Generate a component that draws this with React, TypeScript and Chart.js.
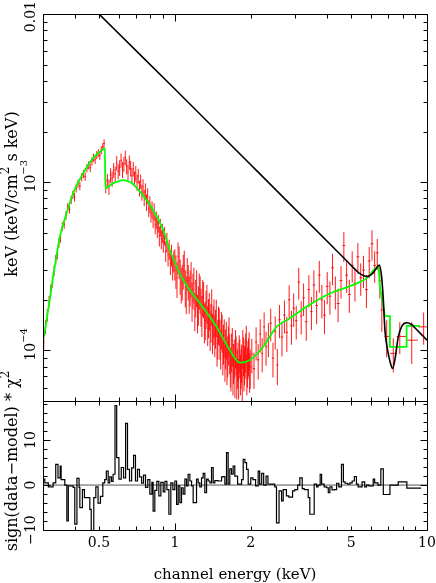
import React, { useEffect, useRef } from 'react';
import { Chart, registerables } from 'chart.js';

Chart.register(...registerables);

// ---------- observed spectrum (red crosses) ----------
const dataEnergy = [
  0.302, 0.307, 0.312, 0.317, 0.322, 0.327, 0.332, 0.337, 0.342, 0.347, 0.352, 0.358, 0.364, 0.370, 0.376, 0.382, 0.388, 0.394, 0.400,
  0.406, 0.413, 0.420, 0.427, 0.434, 0.441, 0.448, 0.455, 0.462, 0.469, 0.476, 0.483, 0.490, 0.497, 0.504, 0.511, 0.518, 0.524,
  0.532, 0.540, 0.548, 0.556, 0.564, 0.572, 0.580, 0.588, 0.596, 0.604, 0.612, 0.620, 0.628, 0.636, 0.644, 0.652, 0.660, 0.668,
  0.676, 0.684, 0.692, 0.700, 0.708, 0.716, 0.724, 0.732, 0.740, 0.748, 0.756, 0.764, 0.772, 0.780, 0.788, 0.796, 0.804, 0.812,
  0.820, 0.828, 0.836, 0.844, 0.852, 0.860, 0.868, 0.876, 0.884, 0.892, 0.900, 0.910, 0.920, 0.930, 0.940, 0.950, 0.960, 0.970,
  0.980, 0.990,
  1.00, 1.01, 1.02, 1.03, 1.04, 1.05, 1.06, 1.07, 1.08, 1.09, 1.10, 1.11, 1.12, 1.13, 1.14, 1.15, 1.16, 1.17, 1.18, 1.19,
  1.20, 1.21, 1.22, 1.23, 1.24, 1.25, 1.26, 1.27, 1.28, 1.29, 1.30, 1.31, 1.32, 1.33, 1.34, 1.35, 1.36, 1.37, 1.38, 1.39,
  1.40, 1.41, 1.42, 1.43, 1.44, 1.45, 1.46, 1.47, 1.48, 1.49, 1.50, 1.51, 1.52, 1.53, 1.54, 1.55, 1.56, 1.57, 1.58, 1.59,
  1.60, 1.61, 1.62, 1.63, 1.64, 1.65, 1.66, 1.67, 1.68, 1.69, 1.70, 1.71, 1.72, 1.73, 1.74, 1.75, 1.76, 1.77, 1.78, 1.79,
  1.80, 1.81, 1.82, 1.83, 1.84, 1.85, 1.86, 1.87, 1.88, 1.89, 1.90, 1.91, 1.92, 1.93, 1.94, 1.95, 1.96, 1.97, 1.98, 1.99,
  2.02, 2.06, 2.10, 2.14, 2.18, 2.22, 2.26, 2.30, 2.35, 2.40, 2.45, 2.50, 2.55, 2.60, 2.66, 2.72, 2.78, 2.84, 2.90, 2.96, 3.03,
  3.10, 3.17, 3.24, 3.32, 3.40, 3.48, 3.56, 3.65, 3.74, 3.83, 3.92, 4.02, 4.12, 4.22, 4.33, 4.44, 4.56, 4.68, 4.80, 4.92, 5.05,
  5.18, 5.32, 5.46, 5.60, 5.75, 5.90, 6.05, 6.20, 6.35, 6.50,
  6.62, 6.92, 7.35, 7.80, 8.70, 9.70,
];
const dataFlux = [
  1.12e-4, 1.38e-4, 1.62e-4, 1.95e-4, 2.28e-4, 2.55e-4, 2.98e-4, 3.45e-4, 3.72e-4, 4.35e-4, 4.68e-4, 5.45e-4, 5.62e-4, 6.35e-4,
  7.10e-4, 6.90e-4, 7.85e-4, 8.40e-4, 8.15e-4, 9.20e-4, 9.80e-4, 9.50e-4, 1.07e-3, 1.12e-3, 1.08e-3, 1.21e-3, 1.26e-3, 1.22e-3,
  1.33e-3, 1.40e-3, 1.36e-3, 1.45e-3, 1.49e-3, 1.44e-3, 1.55e-3, 1.62e-3, 1.70e-3,
  9.6e-4, 1.02e-3, 9.4e-4, 1.10e-3, 1.05e-3, 1.18e-3, 1.12e-3, 1.30e-3, 1.16e-3, 1.22e-3, 1.35e-3, 1.19e-3, 1.28e-3, 1.40e-3,
  1.24e-3, 1.15e-3, 1.31e-3, 1.21e-3, 1.09e-3, 1.20e-3, 1.05e-3, 1.13e-3, 1.00e-3, 1.09e-3, 9.2e-4, 1.01e-3, 8.7e-4, 9.4e-4,
  8.1e-4, 8.9e-4, 7.6e-4, 8.3e-4, 7.0e-4, 7.4e-4, 6.5e-4, 6.9e-4, 6.1e-4, 6.7e-4, 5.6e-4, 6.0e-4, 5.3e-4, 5.7e-4, 4.8e-4,
  5.4e-4, 4.6e-4, 5.0e-4, 4.4e-4, 4.8e-4, 3.9e-4, 4.4e-4, 3.7e-4, 4.0e-4, 3.3e-4, 3.7e-4, 3.1e-4, 3.4e-4,
  3.3e-4, 3.0e-4, 2.7e-4, 3.6e-4, 3.4e-4, 2.8e-4, 2.5e-4, 2.6e-4, 3.0e-4, 3.2e-4,
  2.4e-4, 2.2e-4, 2.9e-4, 2.6e-4, 2.2e-4, 2.4e-4, 2.7e-4, 2.0e-4, 2.3e-4, 2.5e-4,
  1.75e-4, 2.1e-4, 2.4e-4, 1.7e-4, 1.9e-4, 2.3e-4, 2.2e-4, 1.85e-4, 1.65e-4, 2.1e-4,
  2.05e-4, 1.5e-4, 1.55e-4, 1.8e-4, 1.95e-4, 1.45e-4, 1.6e-4, 1.75e-4, 1.35e-4, 1.5e-4,
  1.85e-4, 1.3e-4, 1.45e-4, 1.6e-4, 1.25e-4, 1.38e-4, 1.6e-4, 1.1e-4, 1.2e-4, 1.45e-4,
  1.42e-4, 1.2e-4, 1.05e-4, 1.35e-4, 1.3e-4, 9.8e-5, 1.12e-4, 1.22e-4, 9.0e-5, 1.05e-4,
  1.18e-4, 8.5e-5, 9.5e-5, 1.1e-4, 1.25e-4, 9.8e-5, 8.2e-5, 7.8e-5, 1.0e-4, 1.08e-4,
  7.4e-5, 8.6e-5, 9.2e-5, 7.2e-5, 1.05e-4, 9.6e-5, 7.0e-5, 8.0e-5, 8.8e-5, 7.0e-5,
  9.8e-5, 9.2e-5, 7.4e-5, 8.0e-5, 8.6e-5, 6.8e-5, 1.05e-4, 9.5e-5, 7.8e-5, 8.4e-5,
  9.2e-5, 1.0e-4, 1.12e-4, 7.4e-5, 8.2e-5, 9.0e-5, 9.4e-5, 1.02e-4, 7.6e-5, 8.0e-5,
  9.5e-5, 7.8e-5, 1.12e-4, 8.8e-5, 1.25e-4, 9.6e-5, 1.38e-4, 1.05e-4, 1.18e-4, 1.45e-4, 9.0e-5, 1.30e-4, 8.2e-5, 1.52e-4,
  1.20e-4, 1.62e-4, 1.28e-4, 2.00e-4, 1.40e-4, 1.78e-4, 1.50e-4, 2.55e-4, 1.60e-4, 2.05e-4, 1.48e-4, 2.30e-4, 1.70e-4,
  2.45e-4, 1.85e-4, 2.80e-4, 2.00e-4, 1.62e-4, 2.40e-4, 2.10e-4, 3.10e-4, 2.25e-4, 1.90e-4, 2.60e-4, 4.20e-4, 2.80e-4,
  2.15e-4, 3.20e-4, 2.50e-4, 3.60e-4, 2.70e-4, 3.00e-4, 2.30e-4, 3.40e-4, 4.30e-4, 3.20e-4, 3.80e-4, 2.60e-4,
  1.74e-4, 1.21e-4, 9.6e-5, 1.21e-4, 1.15e-4, 1.38e-4,
];
const dataErr = [
  1.2e-5, 1.3e-5, 1.4e-5, 1.6e-5, 1.8e-5, 2.0e-5, 2.2e-5, 2.4e-5, 2.5e-5, 2.8e-5, 3.0e-5, 3.3e-5, 3.4e-5, 3.8e-5, 4.0e-5,
  4.0e-5, 4.5e-5, 4.8e-5, 4.8e-5, 5.2e-5, 5.5e-5, 5.5e-5, 6.0e-5, 6.2e-5, 6.2e-5, 6.8e-5, 7.0e-5, 7.0e-5, 7.5e-5, 7.8e-5,
  7.8e-5, 8.0e-5, 8.2e-5, 8.2e-5, 8.5e-5, 9.0e-5, 9.5e-5,
  1.0e-4, 1.0e-4, 1.0e-4, 1.1e-4, 1.1e-4, 1.2e-4, 1.2e-4, 1.3e-4, 1.2e-4, 1.3e-4, 1.3e-4, 1.3e-4, 1.3e-4, 1.4e-4, 1.3e-4,
  1.2e-4, 1.3e-4, 1.3e-4, 1.2e-4, 1.2e-4, 1.1e-4, 1.2e-4, 1.1e-4, 1.1e-4, 1.0e-4, 1.0e-4, 9.5e-5, 1.0e-4, 9.0e-5, 9.5e-5,
  8.5e-5, 9.0e-5, 8.0e-5, 8.5e-5, 7.5e-5, 8.0e-5, 7.5e-5, 8.0e-5, 7.0e-5, 7.0e-5, 6.5e-5, 7.0e-5, 6.5e-5, 6.5e-5, 6.0e-5,
  6.5e-5, 6.0e-5, 6.0e-5, 5.5e-5, 6.0e-5, 5.5e-5, 5.5e-5, 5.0e-5, 5.5e-5, 5.0e-5, 5.0e-5,
  7.0e-5, 6.8e-5, 6.5e-5, 7.8e-5, 7.5e-5, 6.6e-5, 6.0e-5, 6.2e-5, 7.0e-5, 7.2e-5,
  6.0e-5, 5.6e-5, 6.5e-5, 6.2e-5, 5.5e-5, 5.8e-5, 6.5e-5, 5.2e-5, 5.5e-5, 6.0e-5,
  4.5e-5, 5.3e-5, 6.0e-5, 4.4e-5, 5.0e-5, 5.6e-5, 5.5e-5, 4.7e-5, 4.5e-5, 5.2e-5,
  5.0e-5, 4.0e-5, 4.0e-5, 4.6e-5, 5.0e-5, 3.9e-5, 4.2e-5, 4.4e-5, 3.6e-5, 3.9e-5,
  4.6e-5, 3.5e-5, 3.8e-5, 4.1e-5, 3.4e-5, 3.6e-5, 4.0e-5, 3.0e-5, 3.2e-5, 3.7e-5,
  3.6e-5, 3.2e-5, 2.8e-5, 3.4e-5, 3.3e-5, 2.7e-5, 3.0e-5, 3.1e-5, 2.5e-5, 2.8e-5,
  3.0e-5, 2.3e-5, 2.6e-5, 2.9e-5, 3.2e-5, 2.6e-5, 2.2e-5, 2.1e-5, 2.6e-5, 2.8e-5,
  2.0e-5, 2.3e-5, 2.4e-5, 2.0e-5, 2.7e-5, 2.5e-5, 1.9e-5, 2.1e-5, 2.3e-5, 1.9e-5,
  2.5e-5, 2.4e-5, 2.0e-5, 2.1e-5, 2.2e-5, 1.9e-5, 2.7e-5, 2.5e-5, 2.1e-5, 2.2e-5,
  2.4e-5, 2.6e-5, 2.8e-5, 2.0e-5, 2.2e-5, 2.3e-5, 2.4e-5, 2.6e-5, 2.0e-5, 2.1e-5,
  2.2e-5, 1.9e-5, 2.5e-5, 2.1e-5, 2.8e-5, 2.2e-5, 3.0e-5, 2.4e-5, 2.7e-5, 3.2e-5, 2.1e-5, 2.9e-5, 2.0e-5, 3.4e-5, 2.8e-5,
  3.6e-5, 3.0e-5, 4.4e-5, 3.2e-5, 4.0e-5, 3.4e-5, 5.5e-5, 3.6e-5, 4.5e-5, 3.4e-5, 5.0e-5, 3.8e-5, 5.4e-5, 4.2e-5, 6.0e-5,
  4.5e-5, 3.7e-5, 5.2e-5, 4.7e-5, 6.6e-5, 5.0e-5, 4.3e-5, 5.7e-5, 8.5e-5, 6.0e-5, 4.8e-5, 6.8e-5, 5.5e-5, 7.5e-5, 5.9e-5,
  6.5e-5, 5.1e-5, 7.2e-5, 8.8e-5, 6.8e-5, 8.0e-5, 5.7e-5,
  4.5e-5, 3.0e-5, 2.2e-5, 2.6e-5, 3.2e-5, 3.0e-5,
];

// ---------- folded model (green) ----------
const modelEnergy = [
  0.302, 0.305, 0.310, 0.319, 0.329, 0.339, 0.350, 0.372, 0.395, 0.433, 0.474, 0.500, 0.528, 0.530, 0.562, 0.624, 0.675,
  0.727, 0.820, 0.899, 0.955, 1.079, 1.256, 1.464, 1.653, 1.811, 1.985, 2.24, 2.53, 2.86, 3.33, 4.12, 5.10, 5.76, 6.41,
  6.51, 6.61, 6.81,
];
const modelFlux = [
  1.20e-4, 1.30e-4, 1.52e-4, 2.00e-4, 2.74e-4, 3.61e-4, 4.74e-4, 6.53e-4, 8.59e-4, 1.13e-3, 1.39e-3, 1.50e-3, 1.59e-3,
  9.20e-4, 9.75e-4, 1.03e-3, 9.89e-4, 8.79e-4, 6.84e-4, 5.20e-4, 3.95e-4, 2.62e-4, 1.91e-4, 1.38e-4, 1.00e-4, 8.45e-5,
  8.77e-5, 1.05e-4, 1.38e-4, 1.55e-4, 1.82e-4, 2.18e-4, 2.45e-4, 2.68e-4, 3.15e-4, 2.39e-4, 2.09e-4, 1.60e-4,
];
const modelStepEnergy = [6.81, 7.13, 7.13, 8.30, 8.30, 9.38];
const modelStepFlux = [1.60e-4, 1.60e-4, 1.05e-4, 1.05e-4, 1.40e-4, 1.40e-4];

// ---------- unfolded model (black) ----------
const lineEnergy = [
  0.300, 0.500, 1.000, 2.000, 4.80, 5.20, 5.42, 5.77, 6.06, 6.27, 6.47, 6.61, 6.71, 6.81, 7.00, 7.16, 7.30, 7.46, 7.69,
  7.96, 8.32, 8.66, 9.09, 10.0,
];
const lineFlux = [
  2.17e-2, 1.00e-2, 3.58e-3, 1.27e-3, 3.41e-4, 3.02e-4, 2.86e-4, 2.75e-4, 2.85e-4, 3.05e-4, 3.22e-4, 2.73e-4, 2.00e-4,
  1.32e-4, 9.8e-5, 8.4e-5, 7.8e-5, 8.8e-5, 1.20e-4, 1.40e-4, 1.46e-4, 1.43e-4, 1.33e-4, 1.15e-4,
];

// ---------- residuals (sign(data-model) * chi^2), bin edges ----------
const residEdges = [
  0.300, 0.305, 0.315, 0.329, 0.337, 0.344, 0.351, 0.354, 0.366, 0.373, 0.378, 0.395, 0.401, 0.409, 0.417, 0.420, 0.430,
  0.438, 0.460, 0.466, 0.477, 0.486, 0.496, 0.507, 0.518, 0.527, 0.535, 0.544, 0.552, 0.561, 0.569, 0.579, 0.588, 0.600,
  0.613, 0.626, 0.638, 0.649, 0.661, 0.674, 0.686, 0.698, 0.711, 0.724, 0.738, 0.751, 0.765, 0.781, 0.796, 0.811, 0.820,
  0.833, 0.848, 0.864, 0.880, 0.899, 0.913, 0.930, 0.947, 0.964, 0.982, 1.000, 1.016, 1.031, 1.047, 1.063, 1.079, 1.096,
  1.113, 1.129, 1.147, 1.165, 1.182, 1.219, 1.237, 1.256, 1.276, 1.295, 1.315, 1.336, 1.356, 1.377, 1.398, 1.419, 1.441,
  1.485, 1.532, 1.555, 1.579, 1.603, 1.627, 1.652, 1.678, 1.703, 1.729, 1.773, 1.839, 1.867, 1.896, 1.925, 1.954, 2.000,
  2.040, 2.090, 2.140, 2.170, 2.210, 2.250, 2.300, 2.340, 2.490, 2.530, 2.590, 2.650, 2.690, 2.770, 2.830, 2.930, 2.990,
  3.070, 3.130, 3.200, 3.260, 3.380, 3.430, 3.570, 3.650, 3.700, 3.770, 3.820, 3.910, 4.000, 4.060, 4.120, 4.200, 4.280,
  4.380, 4.470, 4.580, 4.660, 4.730, 4.840, 4.950, 5.050, 5.150, 5.250, 5.330, 5.530, 5.660, 5.760, 5.880, 6.120, 6.200,
  6.390, 6.560, 6.710, 7.130, 7.690, 8.320, 9.480,
];
const residChi = [
  1.3, 0.5, -0.4, 0.5, 4.6, 1.6, 4.2, 1.2, 0, -8, -0.2, -0.5, -8.7, 1.5, -0.5, -5, -1, -2.8, -5.4, -10.5, -2.8, -0.4, -4,
  -2.5, 0.5, 1.2, 3.1, 0.5, 1.8, 0.8, 2.4, 17.7, 6.1, 1.3, 3.9, 1.6, 13.7, 3.5, 0.9, 3.8, 6.6, 0.9, 3.5, 1.8, 0.4, 2.2,
  -0.5, 1.2, -2.0, 0.6, -5.8, -1.2, 0.8, -2.4, 0.6, -1.5, 0.8, -1.0, -6.5, 0.5, -1.0, 0.9, -4.3, -0.2, -3.9, -0.6, -2.0,
  1.3, -0.2, 2.4, 0.9, -0.2, -3.9, 1.3, 0.5, -0.4, 1.6, 2.6, -1.7, 1.3, 0.9, 0.5, 3.9, 0.5, 1.0, 0.9, 1.8, 1.9, 0.2, 7.2,
  0.2, 3.6, 2.4, 4.2, 2.0, 0.2, 1.2, 5.7, 5.0, 3.5, 0.2, 1.6, 1.2, -0.2, 3.1, 0.2, 2.6, 0, 2.0, 0.2, -0.4, -8.4, -1.3,
  -3.5, -1.0, -2.4, -2.7, -1.3, -1.0, 0, 1.6, -0.8, -1.0, -2.8, -6.5, 0.2, -0.4, 0, 2.4, 0.2, -0.4, -0.6, -1.7, -0.4,
  -1.1, -1.0, 0.4, -0.4, 4.6, 0.7, 0.4, 0.2, 0.5, 0.9, 1.9, 0.2, -0.4, 0.7, -0.4, 0, -0.2, 1.3, 0.5, 0, 3.6, -2.1, 0,
  0.7, -0.7,
];

// ---------- axes / labels ----------
const xRange = [0.3, 10];
const yRange = [5e-5, 1e-2];
const resRange = [-10, 18.7];
const xTickValues = [0.5, 1, 2, 5, 10];
const xTickLabels = ['0.5', '1', '2', '5', '10'];
const yTickValues = [1e-4, 1e-3, 1e-2];
const yTickLabels: [string, string][] = [['10', '\u22124'], ['10', '\u22123'], ['0.01', '']];
const resTickValues = [-10, 0, 10];
const resTickLabels = ['\u221210', '0', '10'];
const xTitle = 'channel energy (keV)';
const yTitleParts: [string, boolean][] = [['keV (keV/cm', false], ['2', true], [' s keV)', false]];
const resTitleParts: [string, boolean][] = [['sign(data\u2212model) * \u03c7', false], ['2', true]];

const FONT = '"DejaVu Serif", serif';
const RED = 'rgba(255,0,0,0.9)';
const GREEN = '#00ff00';

function logTicks(min: number, max: number) {
  const out: { v: number; major: boolean }[] = [];
  for (let e = Math.floor(Math.log10(min)); e <= Math.ceil(Math.log10(max)); e++) {
    for (let m = 1; m <= 9; m++) {
      const v = m * Math.pow(10, e);
      if (v >= min * 0.999 && v <= max * 1.001) out.push({ v, major: m === 1 });
    }
  }
  return out;
}

function measureRich(ctx: CanvasRenderingContext2D, parts: [string, boolean][], size: number) {
  const sup = Math.round(size * 0.72);
  let total = 0;
  for (const [t, s] of parts) {
    ctx.font = `${s ? sup : size}px ${FONT}`;
    total += ctx.measureText(t).width;
  }
  return total;
}

function drawRich(ctx: CanvasRenderingContext2D, parts: [string, boolean][], cx: number, cy: number, rot: number, size: number) {
  const sup = Math.round(size * 0.72);
  const widths = parts.map(([t, s]) => {
    ctx.font = `${s ? sup : size}px ${FONT}`;
    return ctx.measureText(t).width;
  });
  const total = widths.reduce((a, b) => a + b, 0);
  ctx.save();
  ctx.translate(cx, cy);
  ctx.rotate(rot);
  ctx.textAlign = 'left';
  ctx.textBaseline = 'middle';
  ctx.fillStyle = '#000';
  let u = -total / 2;
  parts.forEach(([t, s], i) => {
    ctx.font = `${s ? sup : size}px ${FONT}`;
    ctx.fillText(t, u, s ? -size * 0.45 : 0);
    u += widths[i];
  });
  ctx.restore();
}

const RED_INDEX = 3;

const panelPlugin = {
  id: 'panelPlugin',
  afterDatasetDraw(chart: any, args: any) {
    if (args.index !== RED_INDEX) return;
    const xs = chart.scales.x;
    const ys = chart.scales.y;
    const ctx: CanvasRenderingContext2D = chart.ctx;
    ctx.save();
    ctx.beginPath();
    ctx.rect(xs.left, ys.top, xs.right - xs.left, ys.bottom - ys.top);
    ctx.clip();
    ctx.strokeStyle = RED;
    ctx.lineWidth = 1;
    ctx.beginPath();
    const n = dataEnergy.length;
    for (let i = 0; i < n; i++) {
      const e = dataEnergy[i];
      const lo = i > 0 ? (dataEnergy[i - 1] + e) / 2 : e - (dataEnergy[1] - e) / 2;
      const hi = i < n - 1 ? (dataEnergy[i + 1] + e) / 2 : e + (e - dataEnergy[n - 2]) / 2;
      const yc = ys.getPixelForValue(dataFlux[i]);
      const xc = xs.getPixelForValue(e);
      const y0 = ys.getPixelForValue(Math.max(dataFlux[i] - dataErr[i], 1e-6));
      const y1 = ys.getPixelForValue(dataFlux[i] + dataErr[i]);
      ctx.moveTo(xs.getPixelForValue(lo), yc);
      ctx.lineTo(xs.getPixelForValue(hi), yc);
      ctx.moveTo(xc, y0);
      ctx.lineTo(xc, y1);
    }
    ctx.stroke();
    ctx.restore();
  },
  afterDraw(chart: any) {
    const ctx: CanvasRenderingContext2D = chart.ctx;
    const xs = chart.scales.x;
    const ys = chart.scales.y;
    const rs = chart.scales.y2;
    const L = Math.round(xs.left) + 0.5;
    const R = Math.round(xs.right) + 0.5;
    const snap = (v: number) => Math.round(v) + 0.5;
    ctx.save();
    ctx.strokeStyle = '#000';
    ctx.lineWidth = 1;
    const MAJ = 7;
    const MIN = 4;
    const xt = logTicks(xRange[0], xRange[1]);
    const panels = [ys, rs];
    ctx.beginPath();
    for (const p of panels) {
      const T = snap(p.top);
      const B = snap(p.bottom);
      ctx.rect(L, T, R - L, B - T);
      for (const t of xt) {
        const x = snap(xs.getPixelForValue(t.v));
        const len = t.major ? MAJ : MIN;
        ctx.moveTo(x, B); ctx.lineTo(x, B - len);
        ctx.moveTo(x, T); ctx.lineTo(x, T + len);
      }
    }
    for (const t of logTicks(yRange[0], yRange[1])) {
      const y = snap(ys.getPixelForValue(t.v));
      const len = t.major ? MAJ : MIN;
      ctx.moveTo(L, y); ctx.lineTo(L + len, y);
      ctx.moveTo(R, y); ctx.lineTo(R - len, y);
    }
    for (let v = resRange[0]; v <= resRange[1]; v += 2) {
      const y = snap(rs.getPixelForValue(v));
      const len = v % 10 === 0 ? MAJ : MIN;
      ctx.moveTo(L, y); ctx.lineTo(L + len, y);
      ctx.moveTo(R, y); ctx.lineTo(R - len, y);
    }
    ctx.stroke();

    // tick labels
    ctx.fillStyle = '#000';
    ctx.font = `14px ${FONT}`;
    ctx.textAlign = 'center';
    ctx.textBaseline = 'middle';
    xTickValues.forEach((v, i) => {
      ctx.fillText(xTickLabels[i], xs.getPixelForValue(v), 543);
    });
    yTickValues.forEach((v, i) => {
      const [b, s] = yTickLabels[i];
      const parts: [string, boolean][] = s ? [[b, false], [s, true]] : [[b, false]];
      const half = measureRich(ctx, parts, 14) / 2;
      const cy = Math.max(ys.getPixelForValue(v) - 6, half + 1);
      drawRich(ctx, parts, 31, cy, -Math.PI / 2, 14);
    });
    resTickValues.forEach((v, i) => {
      drawRich(ctx, [[resTickLabels[i], false]], 31, rs.getPixelForValue(v), -Math.PI / 2, 14);
    });

    // titles
    drawRich(ctx, [[xTitle, false]], (xs.left + xs.right) / 2, 575, 0, 15);
    drawRich(ctx, yTitleParts, 13, 194, -Math.PI / 2, 16);
    drawRich(ctx, resTitleParts, 13, 461, -Math.PI / 2, 16);
    ctx.restore();
  },
};

export default function App() {
  const ref = useRef<HTMLCanvasElement>(null);
  useEffect(() => {
    const canvas = ref.current;
    if (!canvas) return;
    const pts = (xs: number[], ys: number[]) => xs.map((x, i) => ({ x, y: ys[i] }));
    const resid = residChi.map((c, i) => ({ x: residEdges[i], y: c }));
    resid.push({ x: residEdges[residEdges.length - 1], y: residChi[residChi.length - 1] });
    const chart = new Chart(canvas, {
      type: 'line',
      data: {
        datasets: [
          {
            data: pts(lineEnergy, lineFlux), yAxisID: 'y', borderColor: '#000', borderWidth: 1.6,
            pointRadius: 0, cubicInterpolationMode: 'monotone',
          },
          {
            data: pts(modelEnergy, modelFlux), yAxisID: 'y', borderColor: GREEN, borderWidth: 1.8,
            pointRadius: 0, cubicInterpolationMode: 'monotone',
          },
          {
            data: pts(modelStepEnergy, modelStepFlux), yAxisID: 'y', borderColor: GREEN, borderWidth: 1.8,
            pointRadius: 0, tension: 0,
          },
          {
            data: pts(dataEnergy, dataFlux), yAxisID: 'y', showLine: false, pointRadius: 0, borderColor: RED,
          },
          {
            data: resid, yAxisID: 'y2', borderColor: '#000', borderWidth: 1.2, pointRadius: 0, stepped: true,
          },
          {
            data: [{ x: xRange[0], y: 0 }, { x: xRange[1], y: 0 }], yAxisID: 'y2', borderColor: '#555',
            borderWidth: 1, pointRadius: 0,
          },
        ] as any,
      },
      options: {
        responsive: false,
        animation: false,
        devicePixelRatio: 1,
        events: [],
        layout: { padding: { left: 0, right: 9, top: 14, bottom: 0 } },
        plugins: { legend: { display: false }, tooltip: { enabled: false }, title: { display: false } },
        scales: {
          x: {
            type: 'logarithmic', min: xRange[0], max: xRange[1], position: 'bottom',
            grid: { display: false }, border: { display: false }, ticks: { display: false },
            afterFit: (s: any) => { s.height = 53; },
          },
          y: {
            type: 'logarithmic', min: yRange[0], max: yRange[1], position: 'left', stack: 'panels',
            stackWeight: 3, weight: 2, grid: { display: false }, border: { display: false }, ticks: { display: false },
            afterFit: (s: any) => { s.width = 43; },
          },
          y2: {
            type: 'linear', min: resRange[0], max: resRange[1], position: 'left', stack: 'panels',
            stackWeight: 1, weight: 1, grid: { display: false }, border: { display: false }, ticks: { display: false },
            afterFit: (s: any) => { s.width = 43; },
          },
        },
      } as any,
      plugins: [panelPlugin as any],
    });
    return () => chart.destroy();
  }, []);
  return (
    <div style={{ position: 'fixed', left: 0, top: 0, width: 436, height: 583, background: '#fff' }}>
      <canvas ref={ref} width={436} height={583} style={{ display: 'block', width: 436, height: 583 }} />
    </div>
  );
}
